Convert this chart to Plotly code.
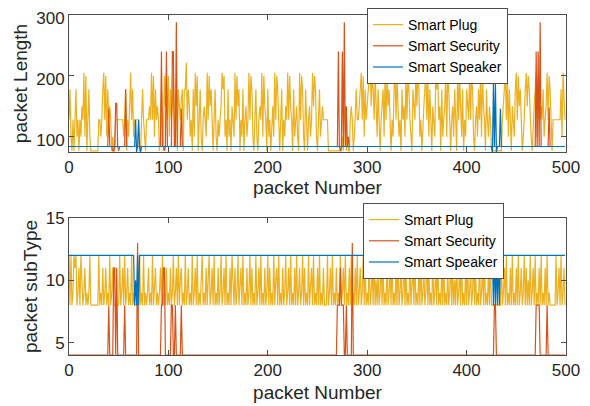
import plotly.graph_objects as go

# ---------------- data ----------------
plug_len = [
    128,178,100,77,128,77,128,178,100,128,77,128,100,150,128,205,100,200,77,128,178,100,77,77,77,
    77,77,77,77,77,128,128,100,128,178,205,128,200,100,178,128,150,128,77,100,77,77,128,128,128,
    128,128,128,128,128,100,128,178,77,128,100,150,205,128,178,100,128,128,128,128,128,77,77,128,178,
    128,100,77,128,128,128,150,128,205,128,200,100,178,128,150,128,77,100,178,128,77,200,150,205,128,
    200,100,178,128,150,205,128,100,200,77,178,150,128,160,178,77,178,178,222,128,178,150,100,128,77,
    178,100,205,150,200,77,128,178,100,77,128,150,128,100,205,128,200,150,178,100,77,128,178,100,77,
    128,100,128,150,205,178,200,100,128,77,178,100,128,77,150,128,100,205,128,200,150,178,77,128,100,
    178,77,128,150,100,128,205,128,200,178,100,77,128,178,100,77,128,150,128,205,100,200,150,128,77,
    178,100,128,77,128,150,100,205,128,200,178,100,77,128,178,77,128,100,150,128,205,128,200,150,128,
    77,178,100,128,150,100,77,205,128,200,178,100,77,178,128,77,128,150,100,128,205,150,200,178,100,
    77,128,178,100,128,150,128,128,128,128,128,77,77,77,77,77,77,77,77,77,77,77,77,77,77,
    100,77,128,150,77,100,77,77,128,150,128,77,100,150,178,128,128,150,178,205,128,200,100,178,128,
    150,178,205,222,150,200,178,128,205,150,100,178,128,77,128,150,178,100,205,128,200,150,178,128,77,
    128,100,178,205,128,200,150,100,128,77,178,128,150,100,205,128,200,178,128,100,77,178,150,128,205,
    150,200,178,100,128,77,128,150,178,205,128,200,100,178,128,77,150,128,100,205,178,200,128,150,77,
    178,100,128,150,205,100,200,178,128,77,128,150,100,178,128,77,205,128,200,150,100,178,77,128,100,
    178,150,128,205,128,200,178,100,77,128,150,100,178,128,205,100,200,150,128,77,178,128,100,150,128,
    77,77,77,77,77,77,77,77,77,77,77,128,150,178,205,128,200,100,178,128,77,150,128,100,178,
    205,128,200,150,178,128,77,100,128,178,205,150,200,178,128,100,77,128,150,178,205,100,200,178,128,
    150,128,178,100,128,150,205,128,200,178,128,77,128,128,128,128,128,128,128,128,178,100,205,150,128,
]

security_len = ([84]*39
    + [84,146,84,84,84,77,77,84,155,155,84,77,84,84,84,84,84,84,178,84]
    + [84]*33
    + [84,240,84,84,77,84,240,84,84,84,84,84,240,240,84,84,288,84,84,84,84,146,84]
    + [84]*155
    + [84,240,84,77,84,240,84,288,84,150,84,100,84,84]
    + [84]*184
    + [84,84,240,84,240,84,288,84,84,84,84,84,84,84,84,148,84,84]
    + [84]*14)

speaker_len = ([84]*66
    + [84,128,75,84,128,84,75,84]
    + [84]*352
    + [75,187,84,187,75,84,84,84,146,84]
    + [84]*64)

plug_sub = [
    12,8,12,8,9,12,11,12,8,9,11,8,12,9,8,9,11,8,9,8,9,12,8,8,8,
    8,8,8,8,8,12,8,9,8,11,8,9,11,8,9,8,12,8,9,11,8,8,8,8,8,
    8,12,8,9,11,8,12,8,9,11,8,9,8,12,8,9,8,8,8,8,8,12,8,9,8,
    12,8,9,8,9,11,8,9,8,12,8,10,11,8,9,8,9,11,8,12,8,9,8,11,8,
    9,8,11,8,9,12,8,9,11,8,12,8,10,11,8,9,8,12,8,9,11,8,9,8,12,
    8,9,11,8,12,8,9,8,11,12,8,9,8,11,8,10,12,8,9,11,8,12,8,9,8,
    11,8,9,12,8,9,11,8,12,8,9,8,11,8,12,9,8,11,8,9,12,8,10,11,8,
    12,8,9,8,11,8,9,12,8,11,8,9,8,12,8,9,11,8,12,8,9,8,11,8,9,
    12,8,11,8,9,8,12,8,10,11,8,12,8,9,8,11,8,9,12,8,9,11,8,12,8,
    9,8,11,8,12,8,9,11,8,9,12,8,11,8,9,8,12,8,10,11,8,12,8,9,8,
    11,8,12,8,9,8,11,8,8,8,12,8,9,11,8,12,8,9,8,11,8,9,8,12,8,
    9,11,8,12,8,9,8,11,8,12,8,9,8,11,8,12,8,9,11,8,9,12,8,11,8,
    9,8,12,8,9,11,8,12,8,10,8,11,8,9,12,8,11,8,9,8,12,8,9,11,8,
    12,8,9,8,11,8,12,8,9,11,8,9,12,8,11,8,9,8,12,8,10,11,8,12,8,
    9,8,11,8,12,8,9,11,8,9,12,8,11,8,9,8,12,8,9,11,8,12,8,9,8,
    11,8,12,8,9,8,11,8,9,12,8,11,8,10,8,12,8,9,11,8,12,8,9,8,11,
    8,12,8,9,11,8,9,12,8,11,8,9,8,12,8,9,11,8,12,8,9,8,11,8,12,
    8,8,8,8,8,8,8,8,8,8,12,8,9,11,8,12,8,9,8,11,8,12,8,9,8,
    11,8,12,8,9,11,8,9,12,8,11,8,10,8,12,8,9,11,8,12,8,9,8,11,8,
    12,8,9,8,11,8,12,8,9,8,8,8,8,8,8,12,8,9,11,8,12,8,9,11,8,
]

security_sub = ([4]*39
    + [4,8,4,4,4,4,11,11,4,11,4,4,4,4,4,4,4,8,4,4]
    + [4]*9
    + [4,13,4]
    + [4]*21
    + [4,8,8,11,11,4,4,4,4,4,4,8,8,4,4,8,4,4,4,4,4,8,4]
    + [4]*154
    + [4,8,8,8,11,8,8,8,4,4,8,4,4,4,4,4,13,4]
    + [4]*141
    + [8,8]
    + [4]*40
    + [8,8,8,8]
    + [4]*7
    + [8]
    + [4]*18)

speaker_sub = ([12]*66
    + [8,10,8,12,8,12]
    + [12]*355
    + [8,12,8,12,8,12,8,12]
    + [12]*65)

series_names = ["Smart Plug", "Smart Security", "Smart Speaker"]
series_colors = ["#EDB120", "#D95319", "#0072BD"]
x_ticks = [0, 100, 200, 300, 400, 500]

# ---------------- figure ----------------
FONT = "Liberation Sans, Arial, Helvetica, sans-serif"
AX = "#4d4d4d"
fig = go.Figure()

top = [plug_len, security_len, speaker_len]
bot = [plug_sub, security_sub, speaker_sub]
for name, col, ys in zip(series_names, series_colors, top):
    fig.add_trace(go.Scatter(x=list(range(len(ys))), y=ys, mode="lines", name=name,
                             line=dict(color=col, width=1.2), xaxis="x", yaxis="y",
                             legend="legend"))
for name, col, ys in zip(series_names, series_colors, bot):
    fig.add_trace(go.Scatter(x=list(range(len(ys))), y=ys, mode="lines", name=name,
                             line=dict(color=col, width=1.2), xaxis="x2", yaxis="y2",
                             legend="legend2"))

# page body adds an 8px offset; figure sized to fit the 590x406 window
OFF = 8
W, H = 590 - OFF, 406 - OFF
def px_x(p):
    return (p - OFF) / W
def px_y(p):
    return 1 - (p - OFF) / H

xdom = [px_x(69), px_x(566)]
axis_common = dict(showline=True, mirror="ticks", linecolor=AX, linewidth=1,
                   ticks="inside", ticklen=5, tickcolor=AX, tickwidth=1,
                   showgrid=False, zeroline=False, automargin=False,
                   ticklabeloverflow="allow",
                   tickfont=dict(family=FONT, size=17, color="#262626"))
title_font = dict(family=FONT, size=19, color="#262626")

fig.update_layout(
    width=W, height=H, margin=dict(l=0, r=0, t=0, b=0, autoexpand=False),
    paper_bgcolor="white", plot_bgcolor="white",
    xaxis=dict(domain=xdom, range=[0, 500], tickvals=x_ticks, anchor="y",
               title=dict(text="packet Number", font=title_font, standoff=3), **axis_common),
    yaxis=dict(domain=[px_y(152), px_y(15)], range=[75, 300], tickvals=[100, 200, 300],
               anchor="x", ticklabelshift=3,
               title=dict(text="packet Length", font=title_font, standoff=3),
               **axis_common),
    xaxis2=dict(domain=xdom, range=[0, 500], tickvals=x_ticks, anchor="y2",
                title=dict(text="packet Number", font=title_font, standoff=6), **axis_common),
    yaxis2=dict(domain=[px_y(355), px_y(218)], range=[4, 15], tickvals=[5, 10, 15],
                anchor="x2", title=dict(text="packet subType", font=title_font, standoff=3),
                **axis_common),
    legend=dict(x=px_x(367), y=1.0, xanchor="left", yanchor="top",
                bgcolor="white", bordercolor=AX, borderwidth=1,
                font=dict(family=FONT, size=14, color="black"), tracegroupgap=0),
    legend2=dict(x=px_x(363), y=px_y(203), xanchor="left", yanchor="top",
                 bgcolor="white", bordercolor=AX, borderwidth=1,
                 font=dict(family=FONT, size=14, color="black"), tracegroupgap=0),
    showlegend=True,
)

fig.write_html("out.html")
